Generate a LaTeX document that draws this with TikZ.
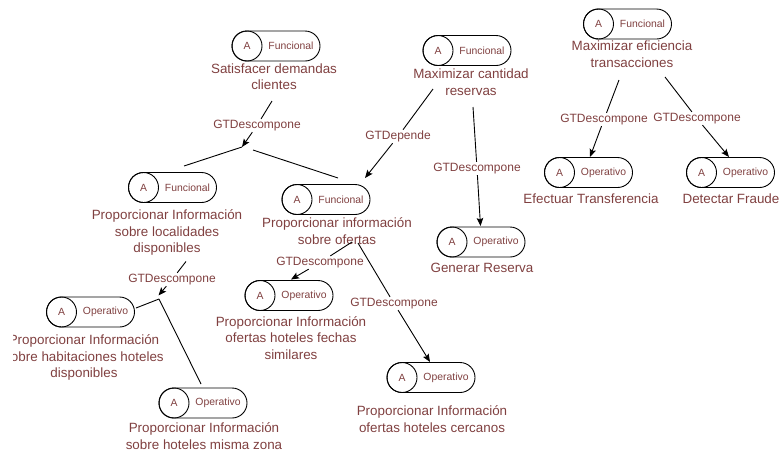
\documentclass[tikz,border=0pt]{standalone}
\usepackage{fontspec}
\setmainfont{Liberation Sans}
\usetikzlibrary{arrows.meta}
\definecolor{goaltext}{RGB}{128,64,64}
\tikzset{
  pill/.style={draw, line width=0.9pt, rounded corners=15pt, minimum width=88pt,
    minimum height=30pt, inner sep=0pt},
  ballA/.style={draw, line width=0.9pt, circle, minimum size=30pt, inner sep=0pt,
    text=goaltext, font=\fontsize{10.4}{12}\selectfont},
  kindtxt/.style={text=goaltext, inner sep=0pt, font=\fontsize{10.4}{12}\selectfont},
  goaltxt/.style={text=goaltext, inner sep=0pt, align=center, anchor=north,
    font=\fontsize{13.4}{16.7}\selectfont},
  linktxt/.style={text=goaltext, inner sep=1pt, yshift=-1.5pt,
    font=\fontsize{12}{14}\selectfont},
  link/.style={line width=0.9pt},
  arr/.style={line width=0.9pt, -{Stealth[length=8pt,width=6.5pt,inset=1.5pt]}},
}
% goal: name, centre of the pill, kind, top of the caption, caption
\newcommand{\goalnode}[5]{%
  \node[pill] (#1) at (#2) {};
  \node[ballA, anchor=west] (#1-a) at (#1.west) {A};
  \node[kindtxt] (#1-k) at ([xshift=15pt]#1.center) {#3};
  \node[goaltxt] (#1-l) at (#4) {\rule{0pt}{11pt}#5};
}
\begin{document}
\begin{tikzpicture}[x=1pt,y=-1pt]
\useasboundingbox (0,0) rectangle (781,456);
\clip (13,0) rectangle (781,456);

% goals
\goalnode{g1}{276,46}{Funcional}{274,62}{Satisfacer demandas\\clientes}
\goalnode{g2}{467,50.5}{Funcional}{471,67.3}{Maximizar cantidad\\reservas}
\goalnode{g3}{627.5,24}{Funcional}{632,39.7}{Maximizar eficiencia\\transacciones}
\goalnode{g4}{588.5,172.5}{Operativo}{591,192.3}{Efectuar Transferencia}
\goalnode{g5}{730.5,172.5}{Operativo}{731,192.3}{Detectar Fraude}
\goalnode{g6}{481,242}{Operativo}{482,261.7}{Generar Reserva}
\goalnode{g7}{172.5,187.5}{Funcional}{167,208.3}{Proporcionar Información\\sobre localidades\\disponibles}
\goalnode{g8}{326,199.5}{Funcional}{337,216.3}{Proporcionar información\\sobre ofertas}
\goalnode{g9}{289,295.5}{Operativo}{291,315}{Proporcionar Información\\ofertas hoteles fechas\\similares}
\goalnode{g10}{431,377.5}{Operativo}{432,404.7}{Proporcionar Información\\ofertas hoteles cercanos}
\goalnode{g11}{90.5,312}{Operativo}{84,333.3}{Proporcionar Información\\sobre habitaciones hoteles\\disponibles}
\goalnode{g12}{203,403}{Operativo}{204,421.7}{Proporcionar Información\\sobre hoteles misma zona}

% connector end points
\coordinate (s1) at (272,101);
\coordinate (j1) at (242,147);
\coordinate (j1b) at (253,150);
\coordinate (e1a) at (184,166);
\coordinate (e1b) at (338,178);
\coordinate (s2) at (433,89);
\coordinate (e2) at (365,178);
\coordinate (s3) at (473,107);
\coordinate (e3) at (480.5,226);
\coordinate (s4) at (619,80);
\coordinate (e4) at (590,157);
\coordinate (s5) at (665,77);
\coordinate (e5) at (729,157);
\coordinate (s6) at (186,261.5);
\coordinate (e6) at (158.5,295.5);
\coordinate (j2) at (159,299);
\coordinate (e6a) at (136,308);
\coordinate (e6b) at (201,384);
\coordinate (s7) at (352,242);
\coordinate (e7) at (291,279.5);
\coordinate (s8) at (358,243);
\coordinate (e8) at (430,362);

% link labels
\node[linktxt] (t1) at (257,124) {GTDescompone};
\node[linktxt] (t2) at (398,135) {GTDepende};
\node[linktxt] (t3) at (477,167) {GTDescompone};
\node[linktxt] (t4) at (604,118) {GTDescompone};
\node[linktxt] (t5) at (697,117) {GTDescompone};
\node[linktxt] (t6) at (172,278) {GTDescompone};
\node[linktxt] (t7) at (320,261) {GTDescompone};
\node[linktxt] (t8) at (394,302) {GTDescompone};

% Satisfacer demandas clientes: decomposition
\draw[link] (s1) -- (t1);
\draw[arr] (t1) -- (j1);
\draw[link] (j1) -- (e1a);
\draw[link] (j1b) -- (e1b);

% Maximizar cantidad reservas
\draw[link] (s2) -- (t2);
\draw[arr] (t2) -- (e2);
\draw[link] (s3) -- (t3);
\draw[arr] (t3) -- (e3);

% Maximizar eficiencia transacciones
\draw[link] (s4) -- (t4);
\draw[arr] (t4) -- (e4);
\draw[link] (s5) -- (t5);
\draw[arr] (t5) -- (e5);

% localidades disponibles: decomposition
\draw[link] (s6) -- (t6);
\draw[arr] (t6) -- (e6);
\draw[link] (j2) -- (e6a);
\draw[link] (j2) -- (e6b);

% sobre ofertas
\draw[link] (s7) -- (t7);
\draw[arr] (t7) -- (e7);
\draw[link] (s8) -- (t8);
\draw[arr] (t8) -- (e8);
\end{tikzpicture}
\end{document}
